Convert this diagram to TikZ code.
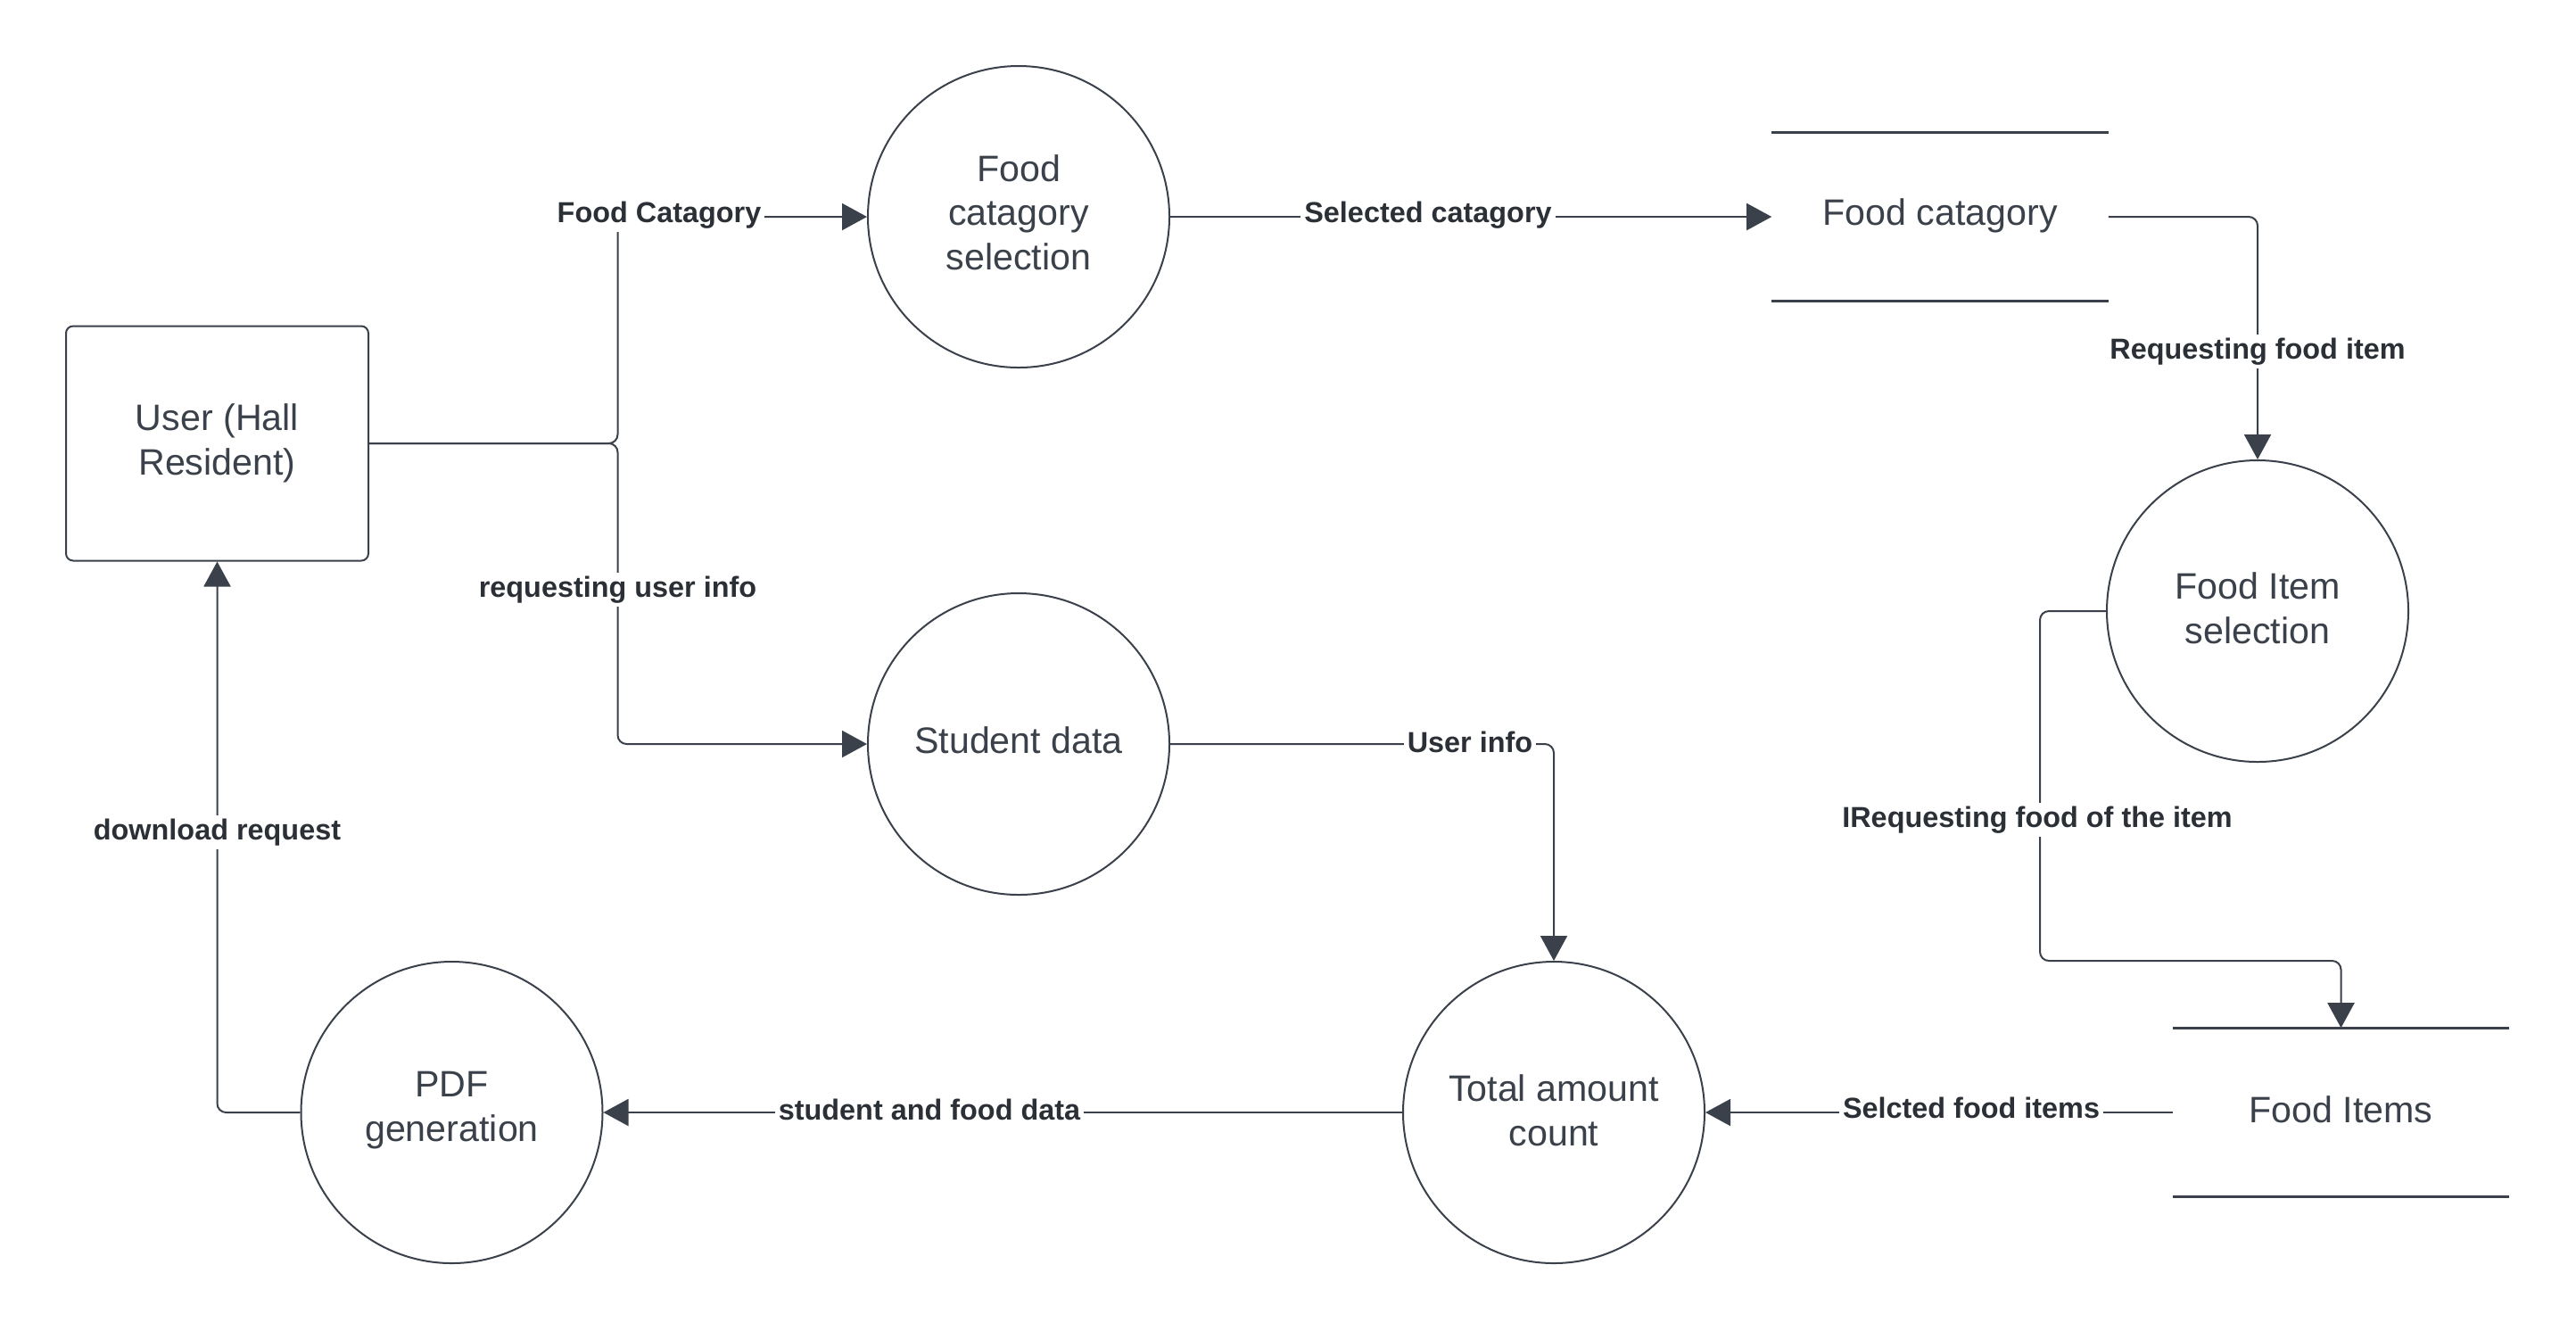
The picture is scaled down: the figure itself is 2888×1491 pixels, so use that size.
\documentclass[tikz,border=0pt]{standalone}
\usepackage{fontspec}
\setmainfont{Liberation Sans}
\usetikzlibrary{arrows.meta}
\definecolor{lc}{HTML}{3A414A}
\definecolor{tc}{HTML}{3A414A}
\definecolor{lbc}{HTML}{2B2F36}
\begin{document}
\begin{tikzpicture}[x=0.25pt,y=-0.25pt,
  proc/.style={circle,draw=lc,line width=0.5pt,minimum size=84.5pt,inner sep=0pt},
  ptext/.style={inner sep=0pt,align=center,text=tc,font=\fontsize{10.3}{12.4}\selectfont},
  ent/.style={rectangle,draw=lc,line width=0.5pt,rounded corners=2pt,minimum width=84.75pt,minimum height=65.75pt,align=center,text=tc,font=\fontsize{10.3}{12.4}\selectfont},
  store/.style={rectangle,minimum width=94pt,minimum height=47pt,inner sep=0pt},
  storeline/.style={draw=lc,line width=0.75pt},
  flow/.style={draw=lc,line width=0.5pt,rounded corners=2.5pt,-{Triangle[length=7pt,width=7.5pt]}},
  lbl/.style={fill=white,inner sep=1pt,text=lbc,font=\fontsize{8.1}{9.7}\selectfont\bfseries}
]
\useasboundingbox (0,0) rectangle (2888,1491);
% nodes
\node[ent] (user) at (243.5,497) {User (Hall\\Resident)};
\node[proc] (fcs) at (1142,243) {};
\node[proc] (sd) at (1142,834) {};
\node[store] (fcstore) at (2175,243) {};
\node[proc] (fis) at (2531,685) {};
\node[store] (fistore) at (2624.5,1247) {};
\node[proc] (tac) at (1742,1247) {};
\node[proc] (pdf) at (506.5,1247) {};
% texts
\node[ptext] (fcs-t) at ([yshift=1.25pt]fcs.center) {Food\\catagory\\selection};
\node[ptext] (sd-t) at ([yshift=1pt]sd.center) {Student data};
\node[ptext] (fcstore-t) at ([yshift=0.3pt]fcstore.center) {Food catagory};
\node[ptext] (fis-t) at ([yshift=0.8pt]fis.center) {Food Item\\selection};
\node[ptext] (fistore-t) at ([yshift=0.8pt]fistore.center) {Food Items};
\node[ptext] (tac-t) at ([yshift=0.6pt]tac.center) {Total amount\\count};
\node[ptext] (pdf-t) at ([yshift=0.6pt]pdf.center) {PDF\\generation};
% store lines
\draw[storeline] (fcstore.north west) -- (fcstore.north east);
\draw[storeline] (fcstore.south west) -- (fcstore.south east);
\draw[storeline] (fistore.north west) -- (fistore.north east);
\draw[storeline] (fistore.south west) -- (fistore.south east);
% helper coordinates
\coordinate (j) at (692.5,497);
\coordinate (c1) at (2287,1077);
% connectors
\draw[flow] (user.east) -- (j) |- (fcs.west);
\draw[flow] (user.east) -- (j) |- (sd.west);
\draw[flow] (fcs.east) -- (fcstore.west);
\draw[flow] (fcstore.east) -| (fis.north);
\draw[flow] (fis.west) -| (c1) -| (fistore.north);
\draw[flow] (fistore.west) -- (tac.east);
\draw[flow] (sd.east) -| (tac.north);
\draw[flow] (tac.west) -- (pdf.east);
\draw[flow] (pdf.west) -| (user.south);
% labels
\node[lbl] (l1) at (739,241) {Food Catagory};
\node[lbl] (l2) at (692.5,661) {requesting user info};
\node[lbl] (l3) at (1601,241) {Selected catagory};
\node[lbl] (l4) at (2531,394) {Requesting food item};
\node[lbl] (l5) at (2284,919) {IRequesting food of the item};
\node[lbl] (l6) at (1648,832) {User info};
\node[lbl] (l7) at (2210,1242) {Selcted food items};
\node[lbl] (l8) at (1042,1244) {student and food data};
\node[lbl] (l9) at (243.5,933) {download request};
\end{tikzpicture}
\end{document}
